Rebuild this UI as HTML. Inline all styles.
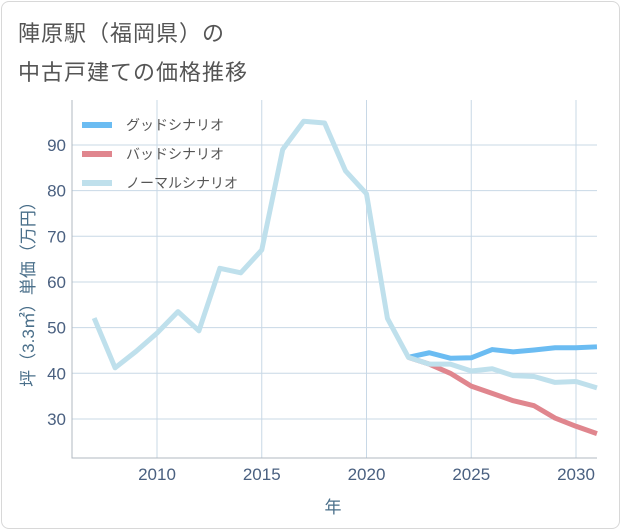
<!DOCTYPE html>
<html><head><meta charset="utf-8"><style>
body{margin:0;background:#fff;}
#wrap{position:relative;width:621px;height:530px;font-family:"Liberation Sans","Noto Sans CJK JP",sans-serif;}
#frame{position:absolute;left:1px;top:1px;width:617px;height:526px;border:1px solid #d8d8d8;border-radius:8px;}
.title{position:absolute;left:18px;font-size:22px;color:#555;letter-spacing:1px;}
</style></head><body>
<div id="wrap">
<div id="frame"></div>
<div class="title" style="top:16px">陣原駅（福岡県）の</div>
<div class="title" style="top:55px">中古戸建ての価格推移</div>
<svg id="chart" width="621" height="530" style="position:absolute;left:0;top:0"></svg>
</div>
<script>
const years=[2007,2008,2009,2010,2011,2012,2013,2014,2015,2016,2017,2018,2019,2020,2021,2022,2023,2024,2025,2026,2027,2028,2029,2030,2031];
const normal=[52.1,41.2,44.8,48.8,53.5,49.3,63,62,67,89,95.2,94.8,84.3,79.3,52,43.5,42,42,40.5,41,39.5,39.3,38,38.2,36.8];
const goodYears=[2022,2023,2024,2025,2026,2027,2028,2029,2030,2031];
const good=[43.5,44.5,43.3,43.4,45.2,44.7,45.1,45.6,45.6,45.8];
const bad=[43.5,42,40,37.2,35.6,34,32.9,30.2,28.4,26.8];
const yTicks=[30,40,50,60,70,80,90];
const xTicks=[2010,2015,2020,2025,2030];
const NS="http://www.w3.org/2000/svg";
const svg=document.getElementById('chart');
const L=72,R=597,T=100,B=458;
const x=v=>157+(v-2010)*20.95;
const y=v=>373.3-(v-40)*4.567;
function mk(t,a){const e=document.createElementNS(NS,t);for(const k in a)e.setAttribute(k,a[k]);svg.appendChild(e);return e;}
yTicks.forEach(v=>{
 const g=mk('line',{x1:L,x2:R,y1:y(v),y2:y(v),stroke:'#c8d8e6','stroke-width':1});
 
 
 const t=mk('text',{x:L-6,y:y(v)+6,'text-anchor':'end','font-size':17,fill:'#4a6080'});t.textContent=v;
 
 
});
xTicks.forEach(v=>{
 const g=mk('line',{x1:x(v),x2:x(v),y1:T,y2:B,stroke:'#c8d8e6','stroke-width':1});
 
 
 const t=mk('text',{x:x(v),y:B+22,'text-anchor':'middle','font-size':17,fill:'#4a6080'});t.textContent=v;
 
 
});
const ax=mk('path',{d:`M${L},${T} V${B} H${R}`,fill:'none',stroke:'#b0b8c0','stroke-width':1});


function line(xs,vs,color,name){
 const p=mk('polyline',{points:xs.map((yr,i)=>x(yr)+','+y(vs[i])).join(' '),fill:'none',stroke:color,'stroke-width':5,'stroke-linejoin':'round'});
 
 
}
line(goodYears,bad,'#e0868e','bad-scenario-line');
line(goodYears,good,'#6bbcf2','good-scenario-line');
line(years,normal,'#bfe0ec','normal-scenario-line');
const legend=[['グッドシナリオ','#6bbcf2'],['バッドシナリオ','#e0868e'],['ノーマルシナリオ','#bfe0ec']];
legend.forEach((l,i)=>{
 const yy=125+i*29;
 const r=mk('rect',{x:82,y:yy-3,width:30,height:6,fill:l[1]});
 
 
 const t=mk('text',{x:126,y:yy+5,'font-size':14,fill:'#555'});t.textContent=l[0];
 
 
});
const yt=mk('text',{x:0,y:0,'font-size':17,fill:'#4a6f8a','text-anchor':'middle',transform:'translate(34,290) rotate(-90)'});
yt.textContent='坪（3.3㎡）単価（万円）';


const xt=mk('text',{x:333,y:513,'font-size':17,fill:'#4a6f8a','text-anchor':'middle'});
xt.textContent='年';


</script>
</body></html>
